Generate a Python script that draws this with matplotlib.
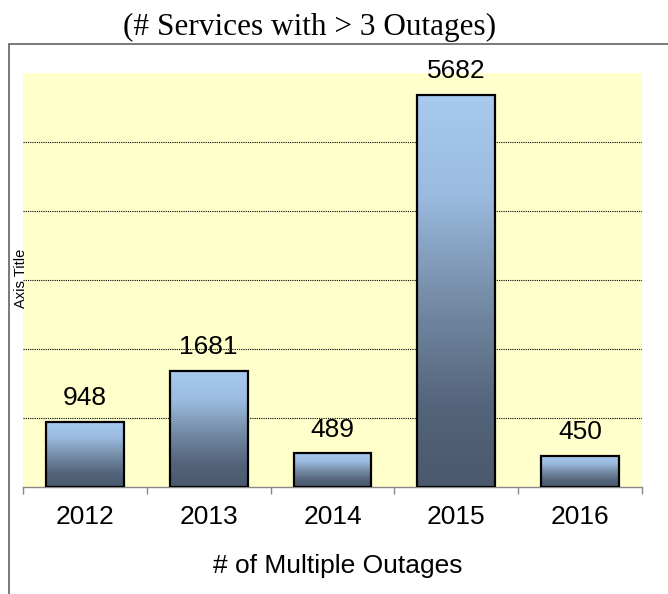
import matplotlib.pyplot as plt
import numpy as np
from matplotlib.colors import LinearSegmentedColormap
from matplotlib.patches import Rectangle

years = ['2012', '2013', '2014', '2015', '2016']
outages = [948, 1681, 489, 5682, 450]
gridValues = [1000, 2000, 3000, 4000, 5000]

W, H = 668, 594
fig = plt.figure(figsize=(W / 100, H / 100), dpi=100)

# outer chart border (right and bottom run off the picture)
fig.patches.append(Rectangle((8.5 / W, -0.1), 1.2, 1.1 - 43.5 / H,
                             transform=fig.transFigure, fill=False,
                             edgecolor='#555555', lw=1.1))

ax = fig.add_axes([23 / W, 1 - 487 / H, 619 / W, 414 / H])
ax.set_facecolor('#FFFFCC')

x = np.arange(len(years))
bars = ax.bar(x, outages, width=0.63, facecolor='none', edgecolor='black',
              lw=1.6, zorder=3)

cmap = LinearSegmentedColormap.from_list(
    'barfade', [(0, '#4A596C'), (0.2, '#53637A'), (0.5, '#7890AB'),
                (0.75, '#9BBBE0'), (1, '#A8CAEF')])
grad = np.linspace(0, 1, 256).reshape(-1, 1)
for bar in bars:
    x0 = bar.get_x()
    im = ax.imshow(grad, cmap=cmap, origin='lower', aspect='auto',
                   extent=[x0, x0 + bar.get_width(), 0, bar.get_height()],
                   zorder=2)
    im.set_clip_path(bar)

for xi, v in zip(x, outages):
    ax.annotate(str(v), (xi, v), xytext=(0, 12), textcoords='offset points',
                ha='center', va='baseline', fontsize=19, family='Liberation Sans')

ax.set_xlim(-0.5, len(years) - 0.5)
ax.set_ylim(0, 6000)
ax.set_yticks(gridValues)
ax.yaxis.grid(True, linestyle=(0, (1, 1)), color='black', lw=0.8, zorder=1)
ax.tick_params(axis='y', left=False, labelleft=False)

ax.set_xticks(x)
ax.set_xticklabels(years, fontsize=19, family='Liberation Sans')
ax.set_xticks(np.arange(len(years) + 1) - 0.5, minor=True)
ax.tick_params(axis='x', which='major', length=0, pad=13)
ax.tick_params(axis='x', which='minor', length=5, color='#888888', width=1)

for s in ['top', 'right', 'left']:
    ax.spines[s].set_visible(False)
ax.spines['bottom'].set_color('#888888')
ax.spines['bottom'].set_linewidth(1)

ax.set_xlabel('# of Multiple Outages', fontsize=19, family='Liberation Sans')
ax.xaxis.label.set_va('baseline')
ax.xaxis.set_label_coords(338 / W, 1 - 573 / H, transform=fig.transFigure)

ax.set_ylabel('Axis Title', fontsize=10.5, family='Liberation Sans')
ax.yaxis.set_label_coords(28 / W, 1 - 278 / H, transform=fig.transFigure)

fig.text(310 / W, 1 - 35 / H, '(# Services with > 3 Outages)', ha='center',
         va='baseline', fontsize=22.5, family='Liberation Serif')

fig.savefig('out.png', dpi=100)
